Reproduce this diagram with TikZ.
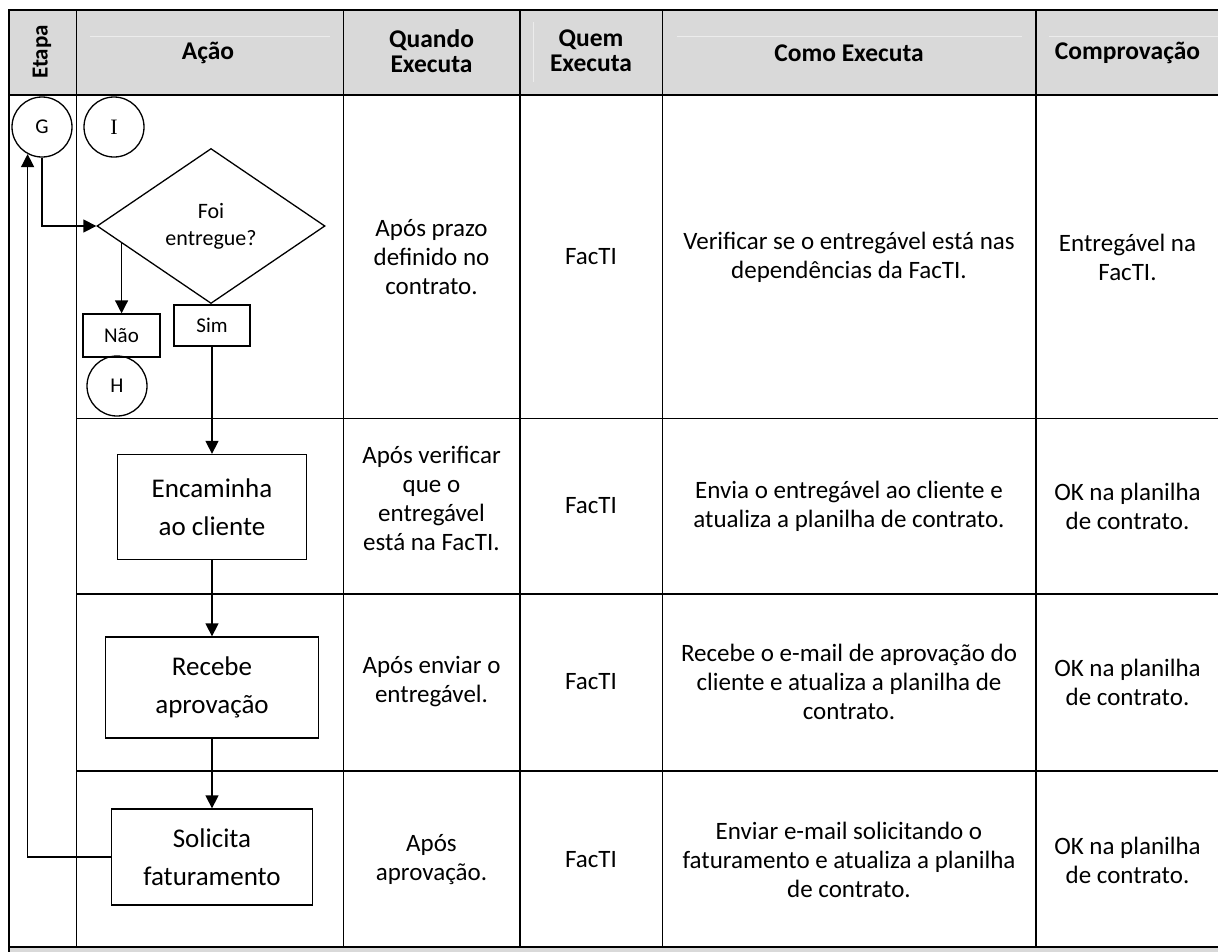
\documentclass[tikz,border=0pt]{standalone}
\usepackage{fontspec}
\setmainfont{Carlito}
\newfontfamily\timesfont{Liberation Serif}
\usepackage{xcolor}
\definecolor{Head-gray}{RGB}{217,217,217}
\definecolor{Head-faint}{RGB}{236,236,236}
\usetikzlibrary{shapes.geometric,arrows.meta,positioning,calc}

\begin{document}
\begin{tikzpicture} [ % 样式
            x=1pt, y=-1pt, >={Triangle[length=13pt,width=13pt]},
            line-thin/.style = {line width=1pt},
            line-thick/.style = {line width=2pt},
            head-text/.style = {font=\fontsize{25.5}{25}\selectfont\bfseries, align=center},
            cell-text/.style = {font=\fontsize{25}{29}\selectfont, align=center},
            flow/.style = {draw, line width=1.3pt},
            box-step/.style = {flow, rectangle, align=center, inner sep=0pt, font=\fontsize{27}{38}\selectfont},
            box-label/.style = {flow, rectangle, inner sep=0pt, font=\fontsize{21}{21}\selectfont},
            connector/.style = {flow, circle, minimum size=60pt, inner sep=0pt, font=\fontsize{21}{21}\selectfont},
            decision/.style = {flow, diamond, inner sep=0pt, align=center, font=\fontsize{22}{27}\selectfont}
        ]

        % 宏
        \pgfmathsetmacro{\xa}{8.5}; % 左边框
        \pgfmathsetmacro{\xb}{76}; % Etapa | Ação
        \pgfmathsetmacro{\xc}{343}; % Ação | Quando
        \pgfmathsetmacro{\xd}{520}; % Quando | Quem
        \pgfmathsetmacro{\xe}{662}; % Quem | Como
        \pgfmathsetmacro{\xf}{1036}; % Como | Comprovação
        \pgfmathsetmacro{\xg}{1219}; % 右边框
        \pgfmathsetmacro{\ya}{9.5}; % 上边框
        \pgfmathsetmacro{\yb}{95}; % 表头
        \pgfmathsetmacro{\yc}{418};
        \pgfmathsetmacro{\yd}{594};
        \pgfmathsetmacro{\ye}{771};
        \pgfmathsetmacro{\yf}{947}; % 下边框

        \useasboundingbox (0,0) rectangle (1218,951);

        % 表头底色
        \fill [Head-gray] (\xa,\ya) rectangle (\xg,\yb);
        \fill [Head-gray] (\xa,\yf) rectangle (1230,960);
        \draw [Head-faint, line-thin] (90,36) -- (330,36);
        \draw [Head-faint, line-thin] (533,22) -- (533,82);
        \draw [Head-faint, line-thin] (677,36) -- (1022,36);
        \draw [Head-faint, line-thin] (1049,36) -- (1218,36);

        % 表格线
        \draw [line-thick] (\xa,960) -- (\xa,\ya) -- (\xg,\ya);
        \draw [line-thick] (\xa,\yb) -- (\xg,\yb);
        \draw [line-thick] (\xa,\yf) -- (\xg,\yf);
        \draw [line-thin] (\xb,\yc) -- (\xg,\yc);
        \draw [line-thick] (\xb,\yd) -- (\xg,\yd);
        \draw [line-thick] (\xb,\ye) -- (\xg,\ye);
        \draw [line-thin] (\xb,\ya) -- (\xb,\yf);
        \draw [line-thin] (\xc,\ya) -- (\xc,\yf);
        \draw [line-thick] (\xd,\ya) -- (\xd,\yf);
        \draw [line-thin] (\xe,\ya) -- (\xe,\yf);
        \draw [line-thick] (\xf,\ya) -- (\xf,\yf);

        % 表头
        \node [head-text, rotate=90, font=\fontsize{23}{25}\selectfont\bfseries] (h-etapa) at (42,52) {Etapa};
        \node [head-text] (h-acao) at (208,53) {Ação};
        \node [head-text] (h-quando) at (431.5,51) {Quando\\Executa};
        \node [head-text] (h-quem) at (591,51) {Quem\\Executa};
        \node [head-text] (h-como) at (849,53) {Como Executa};
        \node [head-text] (h-comp) at (1127.5,53) {Comprovação};

        % 第一行
        \node [cell-text] (q1) at (431.5,257) {Após prazo\\definido no\\contrato.};
        \node [cell-text] (w1) at (591,257) {FacTI};
        \node [cell-text] (c1) at (849,257) {Verificar se o entregável está nas\\dependências da FacTI.};
        \node [cell-text] (p1) at (1127.5,257) {Entregável na\\FacTI.};

        % 第二行
        \node [cell-text] (q2) at (431.5,498) {Após verificar\\que o\\entregável\\está na FacTI.};
        \node [cell-text] (w2) at (591,506) {FacTI};
        \node [cell-text] (c2) at (849,506) {Envia o entregável ao cliente e\\atualiza a planilha de contrato.};
        \node [cell-text] (p2) at (1127.5,506) {OK na planilha\\de contrato.};

        % 第三行
        \node [cell-text] (q3) at (431.5,682) {Após enviar o\\entregável.};
        \node [cell-text] (w3) at (591,682) {FacTI};
        \node [cell-text] (c3) at (849,682) {Recebe o e-mail de aprovação do\\cliente e atualiza a planilha de\\contrato.};
        \node [cell-text] (p3) at (1127.5,682) {OK na planilha\\de contrato.};

        % 第四行
        \node [cell-text] (q4) at (431.5,860) {Após\\aprovação.};
        \node [cell-text] (w4) at (591,860) {FacTI};
        \node [cell-text] (c4) at (849,860) {Enviar e-mail solicitando o\\faturamento e atualiza a planilha\\de contrato.};
        \node [cell-text] (p4) at (1127.5,860) {OK na planilha\\de contrato.};

        % 流程图
        \node [connector] (G) at (42,127) {G};
        \node [connector, font=\timesfont\fontsize{22}{22}\selectfont] (I) at (114,127) {I};
        \node [decision, minimum width=228pt, minimum height=155pt] (dec) at (211,226) {Foi\\entregue?};
        \node [box-label, minimum width=77pt, minimum height=43pt] (nao) at (121.5,335.5) {Não};
        \node [box-label, minimum width=76pt, minimum height=41pt] (sim) at (212,325.5) {Sim};
        \node [connector] (H) at (117,386) {H};
        \node [box-step, minimum width=189pt, minimum height=105pt] (enc) at (212,507) {Encaminha\\ao cliente};
        \node [box-step, minimum width=213pt, minimum height=101pt] (rec) at (212,687.5) {Recebe\\aprovação};
        \node [box-step, minimum width=201pt, minimum height=96pt] (sol) at (212,857) {Solicita\\faturamento};

        % 连线
        \path ($(dec.west)!0.22!(dec.south)$) coordinate (dec-nao);
        \draw [flow, ->] (G.south) |- (dec.west);
        \draw [flow, ->] (dec-nao) -- (dec-nao |- nao.north);
        \draw [flow, ->] (sim.south) -- (enc.north);
        \draw [flow, ->] (enc.south) -- (rec.north);
        \draw [flow, ->] (rec.south) -- (sol.north);
        \draw [flow, ->] (sol.west) -| (G.242);

    \end{tikzpicture}
\end{document}
